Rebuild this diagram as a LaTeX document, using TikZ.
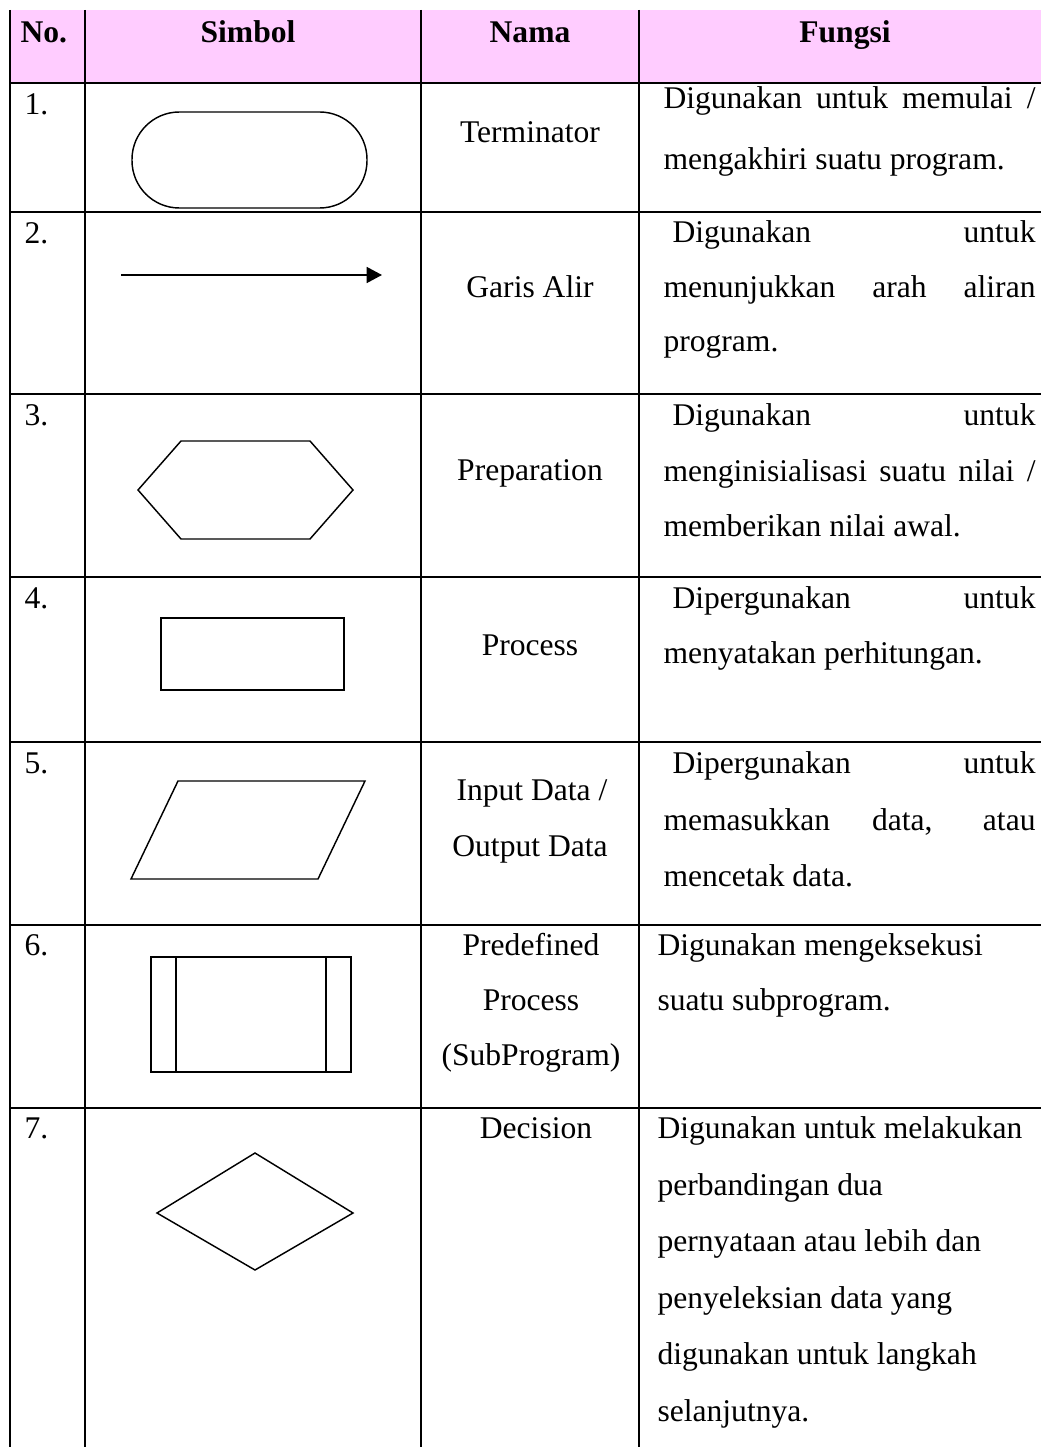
\documentclass[tikz,border=0pt]{standalone}
\usepackage{fontspec}
\setmainfont{Liberation Serif}
\usetikzlibrary{arrows.meta, positioning, calc}
\definecolor{headpink}{HTML}{FFCCFF}
\newdimen\pxu \pxu=0.38pt
\newcommand{\tabfont}{\fontsize{12}{14}\selectfont}
\newcommand{\jline}[2]{\makebox[#1\pxu][s]{#2}}

\begin{document}
\begin{tikzpicture}[x=0.38pt, y=-0.38pt,
        grid/.style={line width=0.45pt, black},
        symb/.style={line width=0.55pt, black},
        head/.style={anchor=base, inner sep=0pt, font=\tabfont\bfseries},
        num/.style={anchor=base west, inner sep=0pt, font=\tabfont},
        nama/.style={anchor=base, inner sep=0pt, font=\tabfont},
        fungsi/.style={anchor=base west, inner sep=0pt, font=\tabfont}]

        \useasboundingbox (0,0) rectangle (1041,1447);

        % === KERANGKA TABEL ===
        \fill[headpink] (10,10) rectangle (1041,83);
        \foreach \x in {10,85,421,639}
            \draw[grid] (\x,10) -- (\x,1447);
        \foreach \y in {83,212,394,577,742,925,1108}
            \draw[grid] (10,\y) -- (1041,\y);

        % === HEADER ===
        \node (hno) [head, anchor=base west] at (20,43) {No.};
        \node (hsimbol) [head] at (248,43) {Simbol};
        \node (hnama) [head] at (530,43) {Nama};
        \node (hfungsi) [head] at (845,43) {Fungsi};

        % === NOMOR ===
        \foreach \i/\y in {1/115,2/244,3/426,4/608,5/773,6/955,7/1138}
            \node (no\i) [num] at (24,\y) {\i.};

        % === SIMBOL ===
        \draw[symb, rounded corners=18pt] (132,112) rectangle (367,208);
        \coordinate (alir1) at (121,275);
        \coordinate (alir2) at (382,275);
        \draw[symb, line width=0.75pt, -{Triangle[length=5.8pt, width=6pt]}] (alir1) -- (alir2);
        \draw[symb] (138,490) -- (181,441) -- (310,441) -- (353,490) -- (310,539) -- (181,539) -- cycle;
        \draw[symb] (161,618) rectangle (344,690);
        \draw[symb] (178,781) -- (365,781) -- (318,879) -- (131,879) -- cycle;
        \draw[symb] (151,957) rectangle (351,1072);
        \draw[symb] (176,957) -- (176,1072);
        \draw[symb] (326,957) -- (326,1072);
        \draw[symb] (157,1213) -- (255,1153) -- (353,1213) -- (255,1270) -- cycle;

        % === NAMA ===
        \node (nama1) [nama] at (530,143) {Terminator};
        \node (nama2) [nama] at (530,298) {Garis Alir};
        \node (nama3) [nama] at (530,480) {Preparation};
        \node (nama4) [nama] at (530,655) {Process};
        \node (nama5a) [nama] at (532,800) {Input Data /};
        \node (nama5b) [nama] at (530,856) {Output Data};
        \node (nama6a) [nama] at (531,955) {Predefined};
        \node (nama6b) [nama] at (531,1010) {Process};
        \node (nama6c) [nama] at (531,1065) {(SubProgram)};
        \node (nama7) [nama] at (536,1138) {Decision};

        % === FUNGSI ===
        \node (f1a) [fungsi] at (663,109) {\jline{372}{Digunakan untuk memulai /}};
        \node (f1b) [fungsi] at (663,170) {mengakhiri suatu program.};

        \node (f2a) [fungsi] at (672,243) {\jline{363}{Digunakan untuk}};
        \node (f2b) [fungsi] at (663,298) {\jline{372}{menunjukkan arah aliran}};
        \node (f2c) [fungsi] at (663,352) {program.};

        \node (f3a) [fungsi] at (672,426) {\jline{363}{Digunakan untuk}};
        \node (f3b) [fungsi] at (663,481) {\jline{372}{menginisialisasi suatu nilai /}};
        \node (f3c) [fungsi] at (663,536) {memberikan nilai awal.};

        \node (f4a) [fungsi] at (672,608) {\jline{363}{Dipergunakan untuk}};
        \node (f4b) [fungsi] at (663,663) {menyatakan perhitungan.};

        \node (f5a) [fungsi] at (672,773) {\jline{363}{Dipergunakan untuk}};
        \node (f5b) [fungsi] at (663,830) {\jline{372}{memasukkan data, atau}};
        \node (f5c) [fungsi] at (663,886) {mencetak data.};

        \node (f6a) [fungsi] at (657,955) {Digunakan mengeksekusi};
        \node (f6b) [fungsi] at (657,1010) {suatu subprogram.};

        \node (f7a) [fungsi] at (657,1138) {Digunakan untuk melakukan};
        \node (f7b) [fungsi] at (657,1195) {perbandingan dua};
        \node (f7c) [fungsi] at (657,1251) {pernyataan atau lebih dan};
        \node (f7d) [fungsi] at (657,1308) {penyeleksian data yang};
        \node (f7e) [fungsi] at (657,1364) {digunakan untuk langkah};
        \node (f7f) [fungsi] at (657,1421) {selanjutnya.};

    \end{tikzpicture}
\end{document}
